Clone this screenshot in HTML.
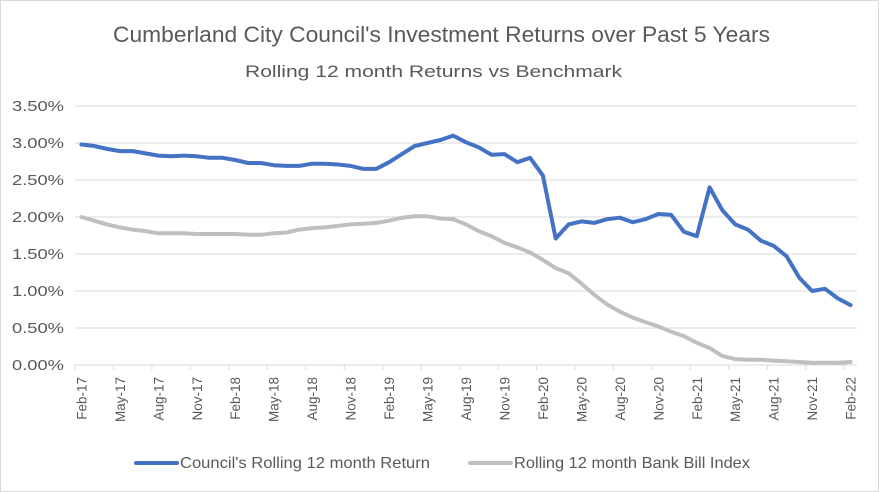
<!DOCTYPE html>
<html><head><meta charset="utf-8">
<style>
body{margin:0;background:#fff;font-family:"Liberation Sans",Calibri,sans-serif;}
#wrap{position:relative;width:879px;height:492px;overflow:hidden;}
</style></head>
<body>
<div id="wrap">
<svg id="chart" width="879" height="492" xmlns="http://www.w3.org/2000/svg">
<rect x="0.5" y="0.5" width="878" height="491" fill="#fff" stroke="#d9d9d9"/>
<text x="113" y="42" textLength="657" lengthAdjust="spacingAndGlyphs" font-size="22.5" fill="#595959" font-family="Liberation Sans, sans-serif">Cumberland City Council's Investment Returns over Past 5 Years</text>
<text x="245" y="77" textLength="377" lengthAdjust="spacingAndGlyphs" font-size="17" fill="#595959" font-family="Liberation Sans, sans-serif">Rolling 12 month Returns vs Benchmark</text>
<g id="grid"></g><g id="yaxis"></g><g id="xaxis"></g><g id="series"></g>
<g>
<line x1="136" y1="463" x2="177" y2="463" stroke="#4472c4" stroke-width="4" stroke-linecap="round"/>
<text x="180" y="468" textLength="250" lengthAdjust="spacingAndGlyphs" font-size="16" fill="#595959">Council's Rolling 12 month Return</text>
<line x1="470" y1="463" x2="511" y2="463" stroke="#bfbfbf" stroke-width="4" stroke-linecap="round"/>
<text x="514" y="468" textLength="236" lengthAdjust="spacingAndGlyphs" font-size="16" fill="#595959">Rolling 12 month Bank Bill Index</text>
</g>
</svg>
</div>
<script>
const months=["Jan","Feb","Mar","Apr","May","Jun","Jul","Aug","Sep","Oct","Nov","Dec"];
const categories=[];
for(let i=0;i<61;i++){const m=(1+i)%12;const y=17+Math.floor((1+i)/12);categories.push(months[m]+"-"+y);}
const councilReturns=[2.98,2.96,2.92,2.89,2.89,2.86,2.83,2.82,2.83,2.82,2.80,
2.80,2.77,2.73,2.73,2.70,2.69,2.69,2.72,2.72,2.71,2.69,2.65,
2.65,2.74,2.85,2.96,3.00,3.04,3.10,3.01,2.94,2.84,2.85,2.74,
2.80,2.56,1.71,1.90,1.94,1.92,1.97,1.99,1.93,1.97,2.04,2.03,
1.80,1.74,2.40,2.09,1.90,1.83,1.68,1.61,1.47,1.18,1.00,1.03,
0.90,0.81];
const benchmarkReturns=[2.00,1.95,1.90,1.86,1.83,1.81,1.78,1.78,1.78,1.77,1.77,1.77,1.77,1.76,1.76,1.78,1.79,1.83,1.85,1.86,1.88,1.90,1.91,1.92,1.95,1.99,2.01,2.01,1.98,1.97,1.90,1.81,1.74,1.65,1.59,1.52,1.42,1.31,1.24,1.10,0.95,0.82,0.72,0.64,0.58,0.52,0.45,0.39,0.30,0.23,0.12,0.08,0.07,0.07,0.06,0.05,0.04,0.03,0.03,0.03,0.04];
const yTicks=[0,0.5,1,1.5,2,2.5,3,3.5];
const NS="http://www.w3.org/2000/svg";
const left=75,right=857,top0=106,bottom=365,ymax=3.5;
const cw=(right-left)/categories.length;
const xs=i=>left+(i+0.5)*cw;
const ys=v=>bottom-(v/ymax)*(bottom-top0);
function mk(t,a,p){const e=document.createElementNS(NS,t);for(const k in a)e.setAttribute(k,a[k]);p.appendChild(e);return e;}
const grid=document.getElementById('grid'),ya=document.getElementById('yaxis'),xa=document.getElementById('xaxis'),ser=document.getElementById('series');
yTicks.forEach(v=>{
 const l=mk('line',{x1:left,x2:right,y1:ys(v),y2:ys(v),stroke:'#d9d9d9','stroke-width':1},grid);
 
 
 const t=mk('text',{x:12,y:ys(v)+5,textLength:52,lengthAdjust:'spacingAndGlyphs','font-size':15,fill:'#595959'},ya);
 t.textContent=v.toFixed(2)+"%";
 
 
});
for(let i=0;i<=categories.length;i+=3){
 const x=left+i*cw;
 const tk=mk('line',{x1:x,x2:x,y1:bottom,y2:bottom+5,stroke:'#d9d9d9'},xa);
 
 
}
for(let i=0;i<categories.length;i+=3){
 const x=xs(i);
 const t=mk('text',{x:0,y:0,'text-anchor':'end','font-size':13.5,fill:'#595959',transform:`translate(${x+5},${bottom+12}) rotate(-90)`},xa);
 t.textContent=categories[i];
 
 
}
function line(vals,color,name){
 const d=vals.map((v,i)=>(i?'L':'M')+xs(i).toFixed(1)+','+ys(v).toFixed(1)).join(' ');
 const p=mk('path',{d:d,fill:'none',stroke:color,'stroke-width':4,'stroke-linejoin':'round','stroke-linecap':'round'},ser);
 
 
}
line(benchmarkReturns,'#bfbfbf','benchmark-line');
line(councilReturns,'#4472c4','council-return-line');
</script>
</body></html>
